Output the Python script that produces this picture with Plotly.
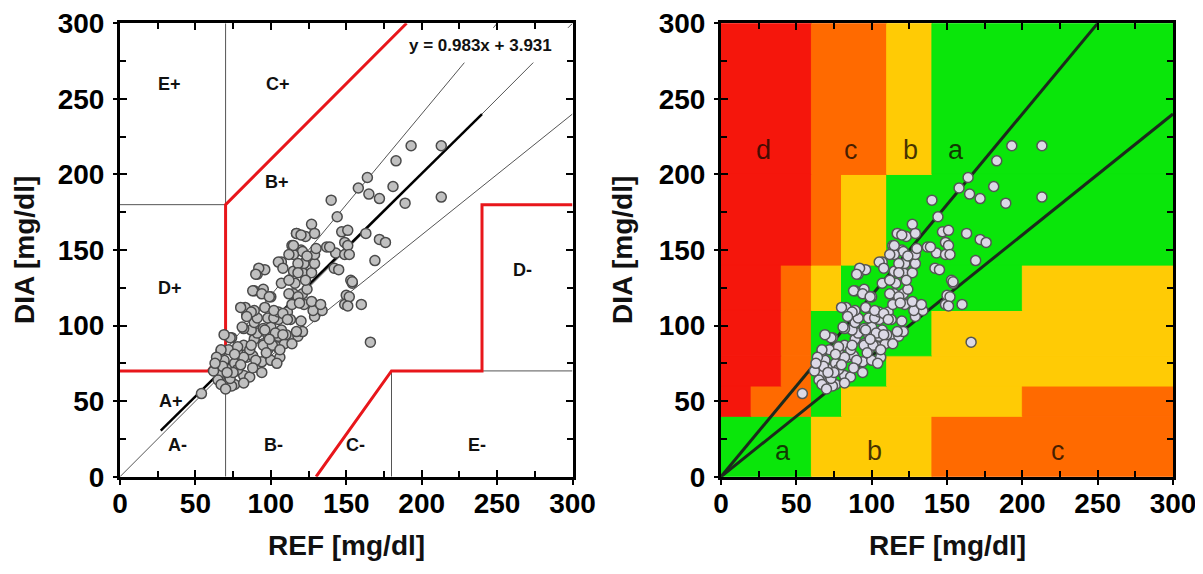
import plotly.graph_objects as go

# ---------------- data ----------------
REF = [193,213,183,164,158,165,172,181,189,213,
       140,144,127,117,123,129,147,151,163,172,176,
       114,120,137,149,169,143,149,142,153,154,150,160,149,166,
       54,66,71,76,67,72,77,82,69,76,67,72,78,84,88,94,100,106,74,82,86,89,95,98,104,109,115,110,105,98,91,87,82,
       89,95,100,107,105,98,91,84,83,89,96,102,105,111,113,118,121,120,129,134,128,122,116,115,121,124,127,133,
       100,95,89,107,116,121,127,115,122,129,129,121,115,107,91,96,139,115,151,145,154,152,151,152,
       92,90,105,112,108,118,124,118,112,123,88,94,99,112,118,114,119,80,87,102,108,111,84,81,96,103,73,78,87,95,
       101,67,69,64,68,65,67,74,73,78,82,76,90,97,99,104,94,86,82,75,71,88,108,114,106,117,62,70,63,80,117,120,130]
DIA = [219,219,209,198,191,187,184,192,181,185,
       183,172,167,161,159,161,162,163,161,157,155,
       153,150,152,155,143,148,147,138,130,128,120,114,114,89,
       55,65,62,61,69,71,70,67,77,75,83,84,82,79,80,76,77,79,92,87,84,91,88,84,86,88,93,94,93,94,95,97,98,
       102,98,99,97,104,105,105,107,112,110,112,105,109,109,104,93,96,103,106,110,110,114,117,121,121,124,116,114,
       119,124,123,128,128,135,135,136,141,141,147,149,147,142,134,137,152,153,153,137,129,119,113,147,
       138,134,142,147,138,141,146,135,130,130,123,121,119,121,119,114,115,112,109,110,108,104,106,99,97,95,92,86,87,87,
       87,84,94,79,73,64,61,60,65,71,79,81,77,82,91,75,69,66,62,69,69,72,94,88,84,96,70,58,75,74,161,160,151]

TICKS = [0, 50, 100, 150, 200, 250, 300]
MINOR_TICKS = [25, 75, 125, 175, 225, 275]
FIT_SLOPE, FIT_INTERCEPT = 0.983, 3.931
FIT_X = [27, 240]

# Clarke grid (left panel)
RED_UPPER_X = [0, 58.33, 70, 70, 190]
RED_UPPER_Y = [70, 70, 84, 180, 300]
RED_LOWER_X = [130, 180, 240, 240, 300]
RED_LOWER_Y = [0, 70, 70, 180, 180]
GRAY_SEGS_X = [[70, 70], [180, 180], [240, 300], [0, 70], [70, 70]]
GRAY_SEGS_Y = [[0, 56], [0, 70], [70, 70], [180, 180], [180, 300]]
DIAG_SLOPES = [1.2, 1.0, 0.8]
DIAG_XRANGES = [[[58.33, 228.3], [247.5, 250]], [[0, 274], [297, 300]], [[70, 300]]]

ZONE_LABELS_L = ["E+", "C+", "B+", "D+", "D-", "A+", "A-", "B-", "C-", "E-"]
ZONE_LX = [33, 105, 104, 33, 267, 34, 38, 102, 156, 237]
ZONE_LY = [260, 260, 195, 125, 137, 50, 21, 21, 21, 21]

# Right panel block grid
BAND_Y = [0, 40, 60, 80, 110, 140, 200, 300]
BAND_XBREAKS = [[0, 60, 140, 300],
                [0, 20, 60, 80, 200, 300],
                [0, 40, 60, 110, 300],
                [0, 40, 60, 140, 300],
                [0, 40, 60, 80, 200, 300],
                [0, 60, 80, 110, 300],
                [0, 60, 110, 140, 300]]
BAND_ZONES = [["a", "b", "c"],
              ["d", "c", "a", "b", "c"],
              ["d", "c", "a", "b"],
              ["d", "c", "a", "b"],
              ["d", "c", "b", "a", "b"],
              ["d", "c", "b", "a"],
              ["d", "c", "b", "a"]]
ZONE_COLORS = {"a": "#0ae60a", "b": "#ffcb05", "c": "#ff6a00", "d": "#f5160c"}
ZONE_LABELS_R = ["d", "c", "b", "a", "a", "b", "c"]
ZONE_RX = [28, 86, 126, 156, 41, 102, 224]
ZONE_RY = [216, 216, 216, 216, 17, 17, 17]
R_SLOPES = [1.2, 0.8]

# ---------------- figure ----------------
OFF = 8                     # page body margin
W, H = 1203 - OFF, 574 - OFF
fig = go.Figure()
TXT = "Liberation Sans, Arial, sans-serif"


def px_x(p):
    return (p - OFF) / W


def px_y(p):
    return 1 - (p - OFF) / H


def line_trace(x, y, color, width, xa="x", ya="y"):
    return go.Scatter(x=x, y=y, mode="lines", line=dict(color=color, width=width),
                      xaxis=xa, yaxis=ya, showlegend=False, hoverinfo="skip")


for sl, xr in zip(DIAG_SLOPES, DIAG_XRANGES):
    for seg in xr:
        fig.add_trace(line_trace(seg, [sl * v for v in seg], "#555555", 1))
for sx, sy in zip(GRAY_SEGS_X, GRAY_SEGS_Y):
    fig.add_trace(line_trace(sx, sy, "#555555", 1))
for rx, ry in [(RED_UPPER_X, RED_UPPER_Y), (RED_LOWER_X, RED_LOWER_Y)]:
    fig.add_trace(line_trace(rx, ry, "#e8161b", 3))
fig.add_trace(line_trace(FIT_X, [FIT_SLOPE * v + FIT_INTERCEPT for v in FIT_X], "black", 2.5))
fig.add_trace(go.Scatter(x=REF, y=DIA, mode="markers",
                         marker=dict(size=10, color="#c0c0c0", line=dict(color="#4a4a4a", width=1.5)),
                         xaxis="x", yaxis="y", showlegend=False))

for sl in R_SLOPES:
    xe = min(300, 300 / sl)
    fig.add_trace(line_trace([0, xe], [0, sl * xe], "#1c2a1c", 3, "x2", "y2"))
fig.add_trace(go.Scatter(x=REF, y=DIA, mode="markers",
                         marker=dict(size=10, color="#dcd9e6", line=dict(color="#555555", width=1.5)),
                         xaxis="x2", yaxis="y2", showlegend=False))

shapes = []
for i in range(len(BAND_ZONES)):
    y0, y1 = BAND_Y[i], BAND_Y[i + 1]
    xb = BAND_XBREAKS[i]
    for j, z in enumerate(BAND_ZONES[i]):
        shapes.append(dict(type="rect", xref="x2", yref="y2", x0=xb[j], x1=xb[j + 1], y0=y0, y1=y1,
                           fillcolor=ZONE_COLORS[z], line=dict(width=1, color=ZONE_COLORS[z]),
                           layer="below"))

# helper (invisible) traces for the outer tick axes
for xa, ya in [("x3", "y3"), ("x4", "y4")]:
    fig.add_trace(go.Scatter(x=[150], y=[150], mode="markers", marker=dict(opacity=0),
                             xaxis=xa, yaxis=ya, showlegend=False, hoverinfo="skip"))

LDOM = [px_x(120), px_x(572.5)]
RDOM = [px_x(721), px_x(1173)]
YDOM = [px_y(476.7), px_y(23.3)]
tickfont = dict(family=TXT, size=28, color="black", weight="bold")


def inner_axis(domain, anchor):
    # frame + inside ticks on all four sides
    return dict(domain=domain, anchor=anchor, range=[0, 300], showline=True, linewidth=2.5,
                linecolor="black", mirror="allticks", ticks="inside", ticklen=7, tickwidth=2,
                tickcolor="black", tickvals=TICKS, showticklabels=False, showgrid=False,
                zeroline=False, fixedrange=True, automargin=False,
                minor=dict(ticks="inside", ticklen=6, tickwidth=2, tickcolor="black",
                           tickvals=MINOR_TICKS))


def outer_axis(domain, position, standoff):
    # outward part of the major ticks + tick labels
    return dict(domain=domain, anchor="free", position=position, range=[0, 300], showline=False,
                ticks="outside", ticklen=7, tickwidth=2, tickcolor="black", tickvals=TICKS,
                showgrid=False, zeroline=False, tickfont=tickfont, ticklabelstandoff=standoff,
                fixedrange=True, automargin=False)


annotations = []
for t, x, y in zip(ZONE_LABELS_L, ZONE_LX, ZONE_LY):
    annotations.append(dict(text=t, x=x, y=y, xref="x", yref="y", showarrow=False,
                            font=dict(family=TXT, size=18, color="#111111", weight="bold")))
annotations.append(dict(text="y = %.3fx + %.3f" % (FIT_SLOPE, FIT_INTERCEPT), x=239, y=285.5,
                        xref="x", yref="y", showarrow=False,
                        font=dict(family=TXT, size=17, color="#111111", weight="bold")))
for t, x, y in zip(ZONE_LABELS_R, ZONE_RX, ZONE_RY):
    annotations.append(dict(text=t, x=x, y=y, xref="x2", yref="y2", showarrow=False,
                            font=dict(family=TXT, size=27, color="rgba(20,10,0,0.78)")))

title_font = dict(family=TXT, size=28, color="#111111", weight="bold")
for cx in [(LDOM[0] + LDOM[1]) / 2, (RDOM[0] + RDOM[1]) / 2]:
    annotations.append(dict(text="REF [mg/dl]", x=cx, y=px_y(545), xref="paper", yref="paper",
                            showarrow=False, font=title_font, xanchor="center", yanchor="middle"))
for p in [25, 623]:
    annotations.append(dict(text="DIA [mg/dl]", x=px_x(p), y=px_y(250), xref="paper", yref="paper",
                            showarrow=False, font=title_font, textangle=-90,
                            xanchor="center", yanchor="middle"))

fig.update_layout(
    width=W, height=H, margin=dict(l=0, r=0, t=0, b=0, pad=0, autoexpand=False),
    paper_bgcolor="white", plot_bgcolor="rgba(0,0,0,0)",
    xaxis=inner_axis(LDOM, "y"), yaxis=inner_axis(YDOM, "x"),
    xaxis2=inner_axis(RDOM, "y2"), yaxis2=inner_axis(YDOM, "x2"),
    xaxis3=outer_axis(LDOM, YDOM[0], -5), yaxis3=outer_axis(YDOM, LDOM[0], 3),
    xaxis4=outer_axis(RDOM, YDOM[0], -5), yaxis4=outer_axis(YDOM, RDOM[0], 3),
    shapes=shapes, annotations=annotations, showlegend=False,
)

fig.write_html("out.html")
